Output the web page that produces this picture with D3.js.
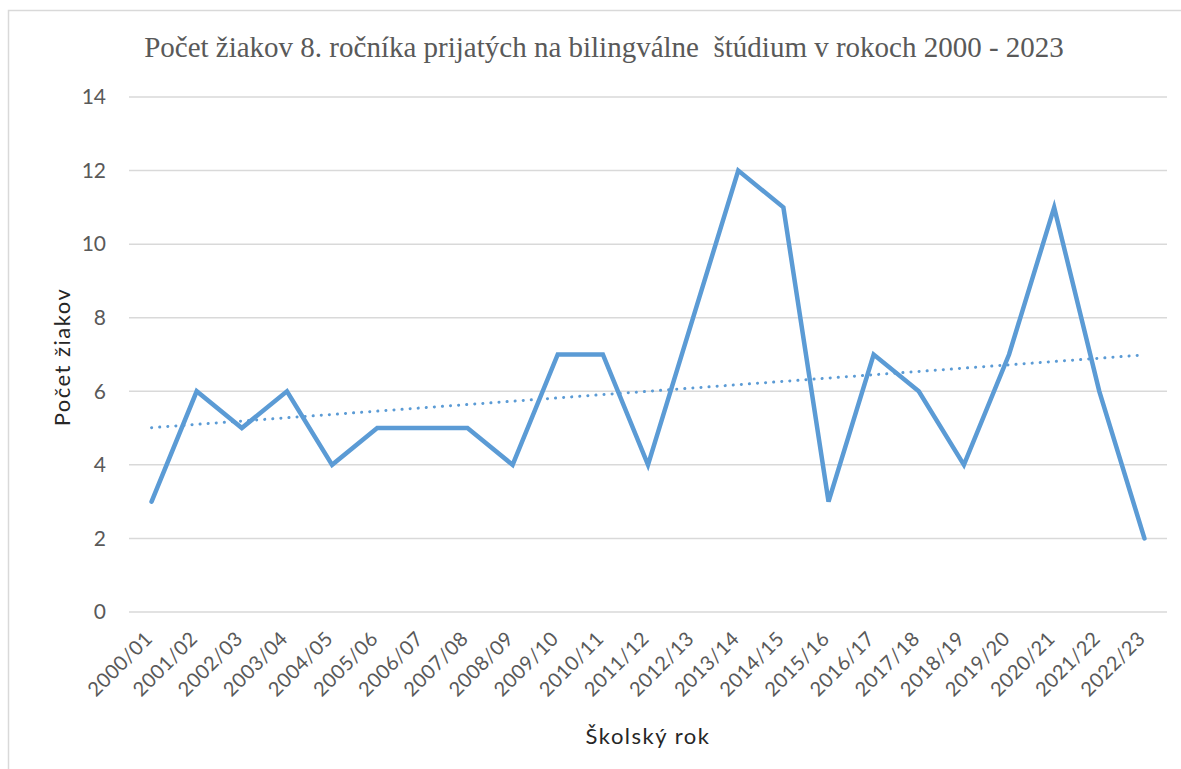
<!DOCTYPE html>
<html>
<head>
<meta charset="utf-8">
<script src="https://cdn.jsdelivr.net/npm/d3@7"></script>
<style>
  body { margin: 0; background: #fff; }
  svg { display: block; }
</style>
</head>
<body>
<svg id="chart" width="1181" height="769"></svg>
<script>
// school years and number of pupils
var years = ["2000/01", "2001/02", "2002/03", "2003/04", "2004/05", "2005/06",
    "2006/07", "2007/08", "2008/09", "2009/10", "2010/11", "2011/12", "2012/13",
    "2013/14", "2014/15", "2015/16", "2016/17", "2017/18", "2018/19", "2019/20",
    "2020/21", "2021/22", "2022/23"];
var pupils = [3, 6, 5, 6, 4, 5, 5, 5, 4, 7, 7, 4, 8, 12, 11, 3, 7, 6, 4, 7, 11, 6, 2];
var yTicks = [0, 2, 4, 6, 8, 10, 12, 14];

var titleText = "Počet žiakov 8. ročníka prijatých na bilingválne  štúdium v rokoch 2000 - 2023";

var svg = d3.select("#chart"),
    margin = { top: 97, right: 14, bottom: 157, left: 129 },
    width = 1167 - margin.left,
    height = 612 - margin.top;

var sans = "Lato, 'Open Sans', sans-serif";

// chart area outline
svg.append("rect")
    .attr("x", 8.5).attr("y", 10.5)
    .attr("width", 1190).attr("height", 780)
    .attr("fill", "none")
    .attr("stroke", "#d9d9d9")
    .attr("stroke-width", 1.5);

svg.append("text")
    .attr("x", 604).attr("y", 57)
    .attr("text-anchor", "middle")
    .attr("font-family", "'Liberation Serif', 'Times New Roman', serif")
    .attr("font-size", 29)
    .attr("fill", "#595959")
    .style("white-space", "pre")
    .text(titleText);

var x = d3.scaleBand().domain(years).range([0, width]);
var y = d3.scaleLinear().domain([0, 14]).range([height, 0]);

var g = svg.append("g")
    .attr("transform", "translate(" + margin.left + "," + margin.top + ")");

// gridlines
g.append("g")
    .selectAll("line")
    .data(yTicks)
    .enter().append("line")
    .attr("x1", 0).attr("x2", width)
    .attr("y1", function (d) { return y(d); })
    .attr("y2", function (d) { return y(d); })
    .attr("stroke", "#d9d9d9")
    .attr("stroke-width", 1.5);

var yAxis = g.append("g")
    .call(d3.axisLeft(y).tickValues(yTicks).tickSize(0).tickPadding(23));
yAxis.select(".domain").remove();
yAxis.selectAll("text")
    .attr("font-family", sans)
    .attr("font-size", 21)
    .attr("fill", "#595959");

var xAxis = g.append("g")
    .attr("transform", "translate(0," + height + ")")
    .call(d3.axisBottom(x).tickSize(0));
xAxis.select(".domain").remove();
xAxis.selectAll("text")
    .attr("font-family", sans)
    .attr("font-size", 20)
    .attr("letter-spacing", 0.4)
    .attr("fill", "#595959")
    .attr("text-anchor", "end")
    .attr("dy", 0)
    .attr("transform", "translate(0,26) rotate(-45)");

function cx(d, i) { return x(years[i]) + x.bandwidth() / 2; }

// linear trendline (least squares over the data)
var n = pupils.length,
    mx = d3.mean(d3.range(n)),
    my = d3.mean(pupils),
    sxy = d3.sum(pupils, function (v, i) { return (i - mx) * (v - my); }),
    sxx = d3.sum(d3.range(n), function (i) { return (i - mx) * (i - mx); }),
    slope = sxy / sxx,
    icpt = my - slope * mx;
var trend = [0, n - 1].map(function (i) { return [i, icpt + slope * i]; });

g.append("path")
    .datum(trend)
    .attr("fill", "none")
    .attr("stroke", "#5b9bd5")
    .attr("stroke-width", 3)
    .attr("stroke-linecap", "round")
    .attr("stroke-dasharray", "0.1 8")
    .attr("d", d3.line()
        .x(function (d) { return x(years[d[0]]) + x.bandwidth() / 2; })
        .y(function (d) { return y(d[1]); }));

g.append("path")
    .datum(pupils)
    .attr("fill", "none")
    .attr("stroke", "#5b9bd5")
    .attr("stroke-width", 4.5)
    .attr("stroke-linecap", "round")
    .attr("stroke-linejoin", "miter")
    .attr("d", d3.line()
        .x(cx)
        .y(function (d) { return y(d); }));

// axis titles
svg.append("text")
    .attr("transform", "translate(70,357) rotate(-90)")
    .attr("text-anchor", "middle")
    .attr("font-family", sans)
    .attr("font-size", 22)
    .attr("letter-spacing", 1.5)
    .attr("fill", "#262626")
    .text("Počet žiakov");

svg.append("text")
    .attr("x", 648).attr("y", 744)
    .attr("text-anchor", "middle")
    .attr("font-family", sans)
    .attr("font-size", 22)
    .attr("letter-spacing", 1.5)
    .attr("fill", "#262626")
    .text("Školský rok");
</script>
</body>
</html>
